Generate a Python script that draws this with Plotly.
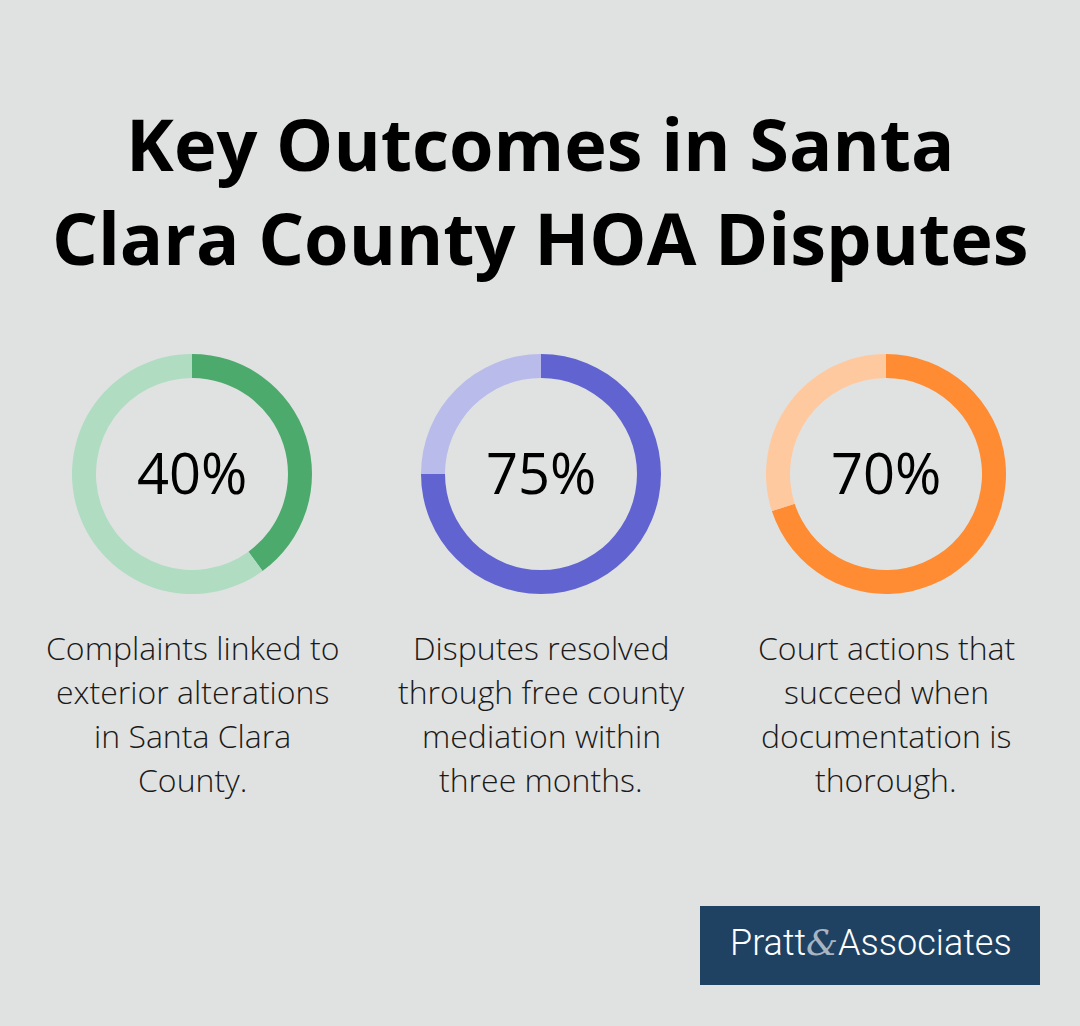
import plotly.graph_objects as go

W, H = 1080, 1026

title_lines = ["Key Outcomes in Santa", "Clara County HOA Disputes"]
percentages = [40, 75, 70]
pct_labels = ["40%", "75%", "70%"]
descriptions = [
    ["Complaints linked to", "exterior alterations", "in Santa Clara", "County."],
    ["Disputes resolved", "through free county", "mediation within", "three months."],
    ["Court actions that", "succeed when", "documentation is", "thorough."],
]
dark_colors = ["#4DAA6D", "#6164D0", "#FF8B33"]
light_colors = ["#B0DCC2", "#B9BBEA", "#FFC9A0"]

centers_x = [192, 541, 886]
center_y = 474
radius = 120
bg = "#E0E2E1"
desc_first_y = 647
desc_step = 44

fig = go.Figure()
for i, p in enumerate(percentages):
    cx = centers_x[i]
    fig.add_trace(go.Pie(
        values=[p, 100 - p],
        labels=["value", "rest"],
        marker=dict(colors=[dark_colors[i], light_colors[i]], line=dict(width=0)),
        hole=0.8,
        sort=False,
        direction="clockwise",
        rotation=0,
        textinfo="none",
        hoverinfo="skip",
        showlegend=False,
        domain=dict(x=[(cx - radius) / W, (cx + radius) / W],
                    y=[1 - (center_y + radius) / H, 1 - (center_y - radius) / H]),
    ))
    fig.add_annotation(x=cx / W, y=1 - (center_y - 2) / H, xref="paper", yref="paper",
                       text=pct_labels[i], showarrow=False, xanchor="center", yanchor="middle",
                       font=dict(family="Open Sans", size=56, color="#000000", weight=500))
    for j, line in enumerate(descriptions[i]):
        fig.add_annotation(x=cx / W, y=1 - (desc_first_y + j * desc_step) / H,
                           xref="paper", yref="paper",
                           text=line, showarrow=False, xanchor="center", yanchor="middle",
                           font=dict(family="Open Sans", size=32, color="#1a1a1a", weight=300))

fig.add_annotation(x=0.5, y=1 - 92 / H, xref="paper", yref="paper",
                   text="<br>".join(title_lines), showarrow=False, xanchor="center", yanchor="top",
                   align="center",
                   font=dict(family="Open Sans", size=72, color="#000000", weight="bold"))

# logo box
fig.add_shape(type="rect", xref="paper", yref="paper",
              x0=700 / W, x1=1040 / W, y0=1 - 985 / H, y1=1 - 906 / H,
              fillcolor="#1F4263", line=dict(width=0), layer="below")
fig.add_annotation(x=871 / W, y=1 - 943 / H, xref="paper", yref="paper",
                   text="Pratt<span style='font-family:DejaVu Serif;font-style:italic;color:#A9B4C2'>&amp;</span>Associates",
                   showarrow=False, xanchor="center", yanchor="middle",
                   font=dict(family="Roboto", size=36, color="#FFFFFF", weight=300))

fig.update_layout(
    width=W, height=H,
    margin=dict(l=0, r=0, t=0, b=0),
    paper_bgcolor=bg, plot_bgcolor=bg,
)

fig.write_html("out.html")
